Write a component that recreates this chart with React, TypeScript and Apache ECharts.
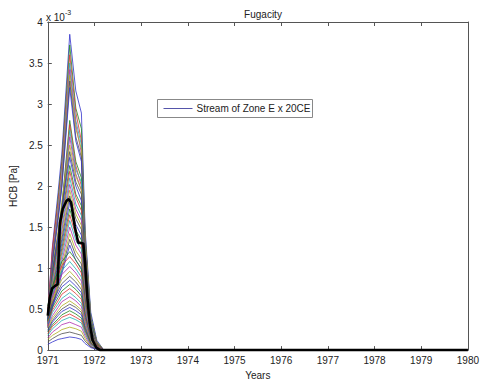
import { useEffect, useRef } from "react";
import * as echarts from "echarts";

const TITLE = "Fugacity";
const X_NAME = "Years";
const Y_NAME = "HCB [Pa]";
const LEGEND_LABEL = "Stream of Zone E x 20CE";
const Y_MIN = 0;
const Y_MAX = 4;
const Y_STEP = 0.5;
const X_MIN = 1971;
const X_MAX = 1980;
const X_STEP = 1;

// sample times (years) shared by all ensemble runs
const TIMES = [1971.0, 1971.1, 1971.22, 1971.3, 1971.47, 1971.6, 1971.72, 1971.8, 1971.92, 1972.05, 1972.2, 1980];

// ensemble runs, values in units of 1e-3 Pa
const RUN_01 = [0.46, 1.27, 1.92, 2.39, 3.85, 3.16, 2.89, 1.46, 0.46, 0.12, 0, 0];
const RUN_02 = [0.4, 1.2, 1.85, 2.3, 3.72, 2.95, 2.7, 1.4, 0.42, 0.1, 0, 0];
const RUN_03 = [0.45, 1.25, 1.8, 2.25, 3.6, 2.9, 2.55, 1.35, 0.4, 0.1, 0, 0];
const RUN_04 = [0.38, 1.1, 1.72, 2.15, 3.5, 2.8, 2.5, 1.3, 0.4, 0.1, 0, 0];
const RUN_05 = [0.42, 1.15, 1.7, 2.1, 3.42, 2.75, 2.4, 1.25, 0.38, 0.09, 0, 0];
const RUN_06 = [0.36, 1.05, 1.65, 2.05, 3.35, 2.7, 2.45, 1.3, 0.4, 0.1, 0, 0];
const RUN_07 = [0.4, 1.1, 1.62, 2.0, 3.28, 2.6, 2.35, 1.2, 0.36, 0.08, 0, 0];
const RUN_08 = [0.35, 1.05, 1.58, 1.98, 3.2, 2.55, 2.3, 1.2, 0.38, 0.09, 0, 0];
const RUN_09 = [0.32, 0.95, 1.4, 1.75, 2.8, 2.3, 2.1, 1.1, 0.34, 0.08, 0, 0];
const RUN_10 = [0.3, 0.9, 1.38, 1.7, 2.75, 2.25, 2.0, 1.05, 0.32, 0.08, 0, 0];
const RUN_11 = [0.34, 0.92, 1.35, 1.68, 2.68, 2.2, 2.05, 1.1, 0.33, 0.08, 0, 0];
const RUN_12 = [0.3, 0.88, 1.3, 1.62, 2.6, 2.15, 1.95, 1.02, 0.3, 0.07, 0, 0];
const RUN_13 = [0.5, 1.0, 1.45, 1.8, 2.5, 2.12, 1.95, 1.12, 0.35, 0.08, 0, 0];
const RUN_14 = [0.45, 0.98, 1.4, 1.74, 2.42, 2.05, 1.9, 1.1, 0.34, 0.08, 0, 0];
const RUN_15 = [0.48, 0.95, 1.36, 1.7, 2.35, 2.0, 1.82, 1.05, 0.33, 0.07, 0, 0];
const RUN_16 = [0.44, 0.9, 1.3, 1.62, 2.25, 1.9, 1.76, 1.0, 0.32, 0.07, 0, 0];
const RUN_17 = [0.42, 0.88, 1.27, 1.57, 2.18, 1.86, 1.7, 0.98, 0.3, 0.07, 0, 0];
const RUN_18 = [0.42, 0.85, 1.22, 1.5, 2.1, 1.78, 1.64, 0.95, 0.3, 0.06, 0, 0];
const RUN_19 = [0.4, 0.8, 1.17, 1.45, 2.02, 1.72, 1.58, 0.9, 0.28, 0.06, 0, 0];
const RUN_20 = [0.4, 0.78, 1.13, 1.4, 1.95, 1.66, 1.52, 0.88, 0.27, 0.06, 0, 0];
const RUN_21 = [0.38, 0.75, 1.1, 1.35, 1.88, 1.6, 1.47, 0.85, 0.26, 0.06, 0, 0];
const RUN_22 = [0.36, 0.72, 1.05, 1.3, 1.8, 1.53, 1.4, 0.8, 0.25, 0.05, 0, 0];
const RUN_23 = [0.35, 0.7, 1.0, 1.24, 1.72, 1.46, 1.34, 0.78, 0.24, 0.05, 0, 0];
const RUN_24 = [0.34, 0.66, 0.96, 1.19, 1.65, 1.4, 1.29, 0.74, 0.23, 0.05, 0, 0];
const RUN_25 = [0.33, 0.64, 0.92, 1.14, 1.58, 1.34, 1.23, 0.71, 0.22, 0.05, 0, 0];
const RUN_26 = [0.32, 0.6, 0.88, 1.08, 1.5, 1.28, 1.17, 0.68, 0.21, 0.05, 0, 0];
const RUN_27 = [0.3, 0.57, 0.83, 1.02, 1.42, 1.21, 1.11, 0.64, 0.2, 0.04, 0, 0];
const RUN_28 = [0.28, 0.54, 0.79, 0.97, 1.35, 1.15, 1.05, 0.61, 0.19, 0.04, 0, 0];
const RUN_29 = [0.27, 0.52, 0.75, 0.93, 1.28, 1.09, 1.0, 0.58, 0.18, 0.04, 0, 0];
const RUN_30 = [0.54, 0.78, 0.96, 1.08, 1.2, 1.1, 0.98, 0.6, 0.19, 0.05, 0, 0];
const RUN_31 = [0.5, 0.74, 0.91, 1.03, 1.14, 1.05, 0.94, 0.57, 0.18, 0.05, 0, 0];
const RUN_32 = [0.48, 0.7, 0.86, 0.97, 1.08, 0.99, 0.89, 0.54, 0.17, 0.04, 0, 0];
const RUN_33 = [0.46, 0.66, 0.82, 0.92, 1.02, 0.94, 0.84, 0.51, 0.16, 0.04, 0, 0];
const RUN_34 = [0.43, 0.62, 0.77, 0.86, 0.96, 0.88, 0.79, 0.48, 0.15, 0.04, 0, 0];
const RUN_35 = [0.4, 0.58, 0.72, 0.81, 0.9, 0.83, 0.74, 0.45, 0.14, 0.04, 0, 0];
const RUN_36 = [0.38, 0.55, 0.68, 0.77, 0.85, 0.78, 0.7, 0.43, 0.14, 0.03, 0, 0];
const RUN_37 = [0.36, 0.52, 0.64, 0.72, 0.8, 0.74, 0.66, 0.4, 0.13, 0.03, 0, 0];
const RUN_38 = [0.34, 0.49, 0.6, 0.68, 0.75, 0.69, 0.62, 0.38, 0.12, 0.03, 0, 0];
const RUN_39 = [0.32, 0.46, 0.56, 0.63, 0.7, 0.64, 0.57, 0.35, 0.11, 0.03, 0, 0];
const RUN_40 = [0.29, 0.42, 0.52, 0.59, 0.65, 0.6, 0.53, 0.33, 0.1, 0.03, 0, 0];
const RUN_41 = [0.27, 0.39, 0.48, 0.54, 0.6, 0.55, 0.49, 0.3, 0.1, 0.02, 0, 0];
const RUN_42 = [0.25, 0.36, 0.45, 0.5, 0.56, 0.52, 0.46, 0.28, 0.09, 0.02, 0, 0];
const RUN_43 = [0.23, 0.34, 0.42, 0.47, 0.52, 0.48, 0.43, 0.26, 0.08, 0.02, 0, 0];
const RUN_44 = [0.22, 0.31, 0.38, 0.43, 0.48, 0.44, 0.39, 0.24, 0.08, 0.02, 0, 0];
const RUN_45 = [0.2, 0.29, 0.35, 0.4, 0.44, 0.4, 0.36, 0.22, 0.07, 0.02, 0, 0];
const RUN_46 = [0.18, 0.26, 0.32, 0.36, 0.4, 0.37, 0.33, 0.2, 0.06, 0.02, 0, 0];
const RUN_47 = [0.15, 0.22, 0.27, 0.31, 0.34, 0.31, 0.28, 0.17, 0.05, 0.01, 0, 0];
const RUN_48 = [0.13, 0.18, 0.22, 0.25, 0.28, 0.26, 0.23, 0.14, 0.04, 0.01, 0, 0];
const RUN_49 = [0.1, 0.14, 0.18, 0.2, 0.22, 0.2, 0.18, 0.11, 0.04, 0.01, 0, 0];
const RUN_50 = [0.07, 0.1, 0.13, 0.14, 0.16, 0.15, 0.13, 0.08, 0.03, 0.01, 0, 0];

const RUNS = [
  RUN_01, RUN_02, RUN_03, RUN_04, RUN_05, RUN_06, RUN_07, RUN_08, RUN_09, RUN_10,
  RUN_11, RUN_12, RUN_13, RUN_14, RUN_15, RUN_16, RUN_17, RUN_18, RUN_19, RUN_20,
  RUN_21, RUN_22, RUN_23, RUN_24, RUN_25, RUN_26, RUN_27, RUN_28, RUN_29, RUN_30,
  RUN_31, RUN_32, RUN_33, RUN_34, RUN_35, RUN_36, RUN_37, RUN_38, RUN_39, RUN_40,
  RUN_41, RUN_42, RUN_43, RUN_44, RUN_45, RUN_46, RUN_47, RUN_48, RUN_49, RUN_50,
];

// thick black mean curve
const MEAN_TIMES = [1971.0, 1971.04, 1971.09, 1971.15, 1971.21, 1971.26, 1971.32, 1971.4, 1971.45, 1971.5, 1971.58, 1971.65, 1971.76, 1971.8, 1971.85, 1971.9, 1971.96, 1972.04, 1972.12, 1980];
const MEAN = [0.42, 0.63, 0.75, 0.78, 0.8, 1.55, 1.72, 1.82, 1.84, 1.8, 1.5, 1.31, 1.3, 1.05, 0.62, 0.32, 0.12, 0.03, 0, 0];

// MATLAB-like colour order (slightly softened)
const COLORS = ["#3434cc", "#228822", "#dd3333", "#22b0b0", "#b030b0", "#b0b020", "#505050"];

const FONT = "'Liberation Sans', Arial, sans-serif";

export default function App() {
  const ref = useRef<HTMLDivElement>(null);

  useEffect(() => {
    if (!ref.current) return;
    const chart = echarts.init(ref.current, null, { renderer: "svg" });

    const series: any[] = RUNS.map((vals, i) => ({
      type: "line",
      name: i === 0 ? LEGEND_LABEL : "run " + (i + 1),
      data: TIMES.map((t, k) => [t, vals[k]]),
      showSymbol: false,
      symbol: "none",
      silent: true,
      z: 2,
      lineStyle: { width: 0.9, color: COLORS[i % COLORS.length], opacity: 0.9 },
    }));
    series.push({
      type: "line",
      name: "mean",
      data: MEAN_TIMES.map((t, k) => [t, MEAN[k]]),
      showSymbol: false,
      symbol: "none",
      silent: true,
      z: 3,
      lineStyle: { width: 2.6, color: "#000000" },
    });

    const axisLine = { show: true, onZero: false, lineStyle: { color: "#555", width: 1 } };
    const tick = { show: true, inside: true, length: 4, lineStyle: { color: "#555" } };
    const label = { color: "#222", fontSize: 10, fontFamily: FONT };

    chart.setOption({
      animation: false,
      backgroundColor: "#ffffff",
      title: {
        text: TITLE,
        left: 258,
        top: 4,
        textAlign: "center",
        textStyle: { fontSize: 10, fontWeight: "normal", color: "#222", fontFamily: FONT },
      },
      grid: { left: 46, right: 11, top: 22, bottom: 29, containLabel: false },
      xAxis: [
        {
          type: "value",
          position: "bottom",
          min: X_MIN,
          max: X_MAX,
          interval: X_STEP,
          name: X_NAME,
          nameLocation: "middle",
          nameGap: 16,
          nameTextStyle: { ...label },
          axisLine,
          axisTick: tick,
          axisLabel: { ...label, margin: 5, lineHeight: 10, formatter: (v: number) => String(v) },
          splitLine: { show: false },
        },
        {
          type: "value",
          position: "top",
          min: X_MIN,
          max: X_MAX,
          interval: X_STEP,
          axisLine,
          axisTick: tick,
          axisLabel: { show: false },
          splitLine: { show: false },
        },
      ],
      yAxis: [
        {
          type: "value",
          position: "left",
          min: Y_MIN,
          max: Y_MAX,
          interval: Y_STEP,
          name: Y_NAME,
          nameLocation: "middle",
          nameGap: 18,
          nameRotate: 90,
          nameTextStyle: { ...label },
          axisLine,
          axisTick: tick,
          axisLabel: { ...label, margin: 5, lineHeight: 10, formatter: (v: number) => String(v) },
          splitLine: { show: false },
        },
        {
          type: "value",
          position: "right",
          min: Y_MIN,
          max: Y_MAX,
          interval: Y_STEP,
          axisLine,
          axisTick: { show: false },
          axisLabel: { show: false },
          splitLine: { show: false },
        },
      ],
      series,
      graphic: [
        {
          type: "text",
          left: 46,
          top: 9,
          style: {
            text: "{b|x 10}{s|-3}",
            rich: {
              b: { fontSize: 10, fontFamily: FONT, fill: "#222", verticalAlign: "bottom" },
              s: { fontSize: 7, fontFamily: FONT, fill: "#222", verticalAlign: "top", padding: [0, 0, 6, 0] },
            },
          },
          z: 10,
        },
        {
          type: "group",
          left: 157,
          top: 99,
          z: 10,
          children: [
            {
              type: "rect",
              shape: { x: 0, y: 0, width: 155, height: 18 },
              style: { fill: "#ffffff", stroke: "#888", lineWidth: 1 },
            },
            {
              type: "line",
              shape: { x1: 6, y1: 9, x2: 35, y2: 9 },
              style: { stroke: "#5555aa", lineWidth: 1 },
            },
            {
              type: "text",
              x: 39,
              y: 9,
              style: {
                text: LEGEND_LABEL,
                fontSize: 10,
                fontFamily: FONT,
                fill: "#222",
                verticalAlign: "middle",
              },
            },
          ],
        },
      ],
    });

    return () => chart.dispose();
  }, []);

  return (
    <div
      ref={ref}
      style={{ position: "fixed", left: 0, top: 0, width: 482, height: 385, background: "#fff" }}
    />
  );
}
